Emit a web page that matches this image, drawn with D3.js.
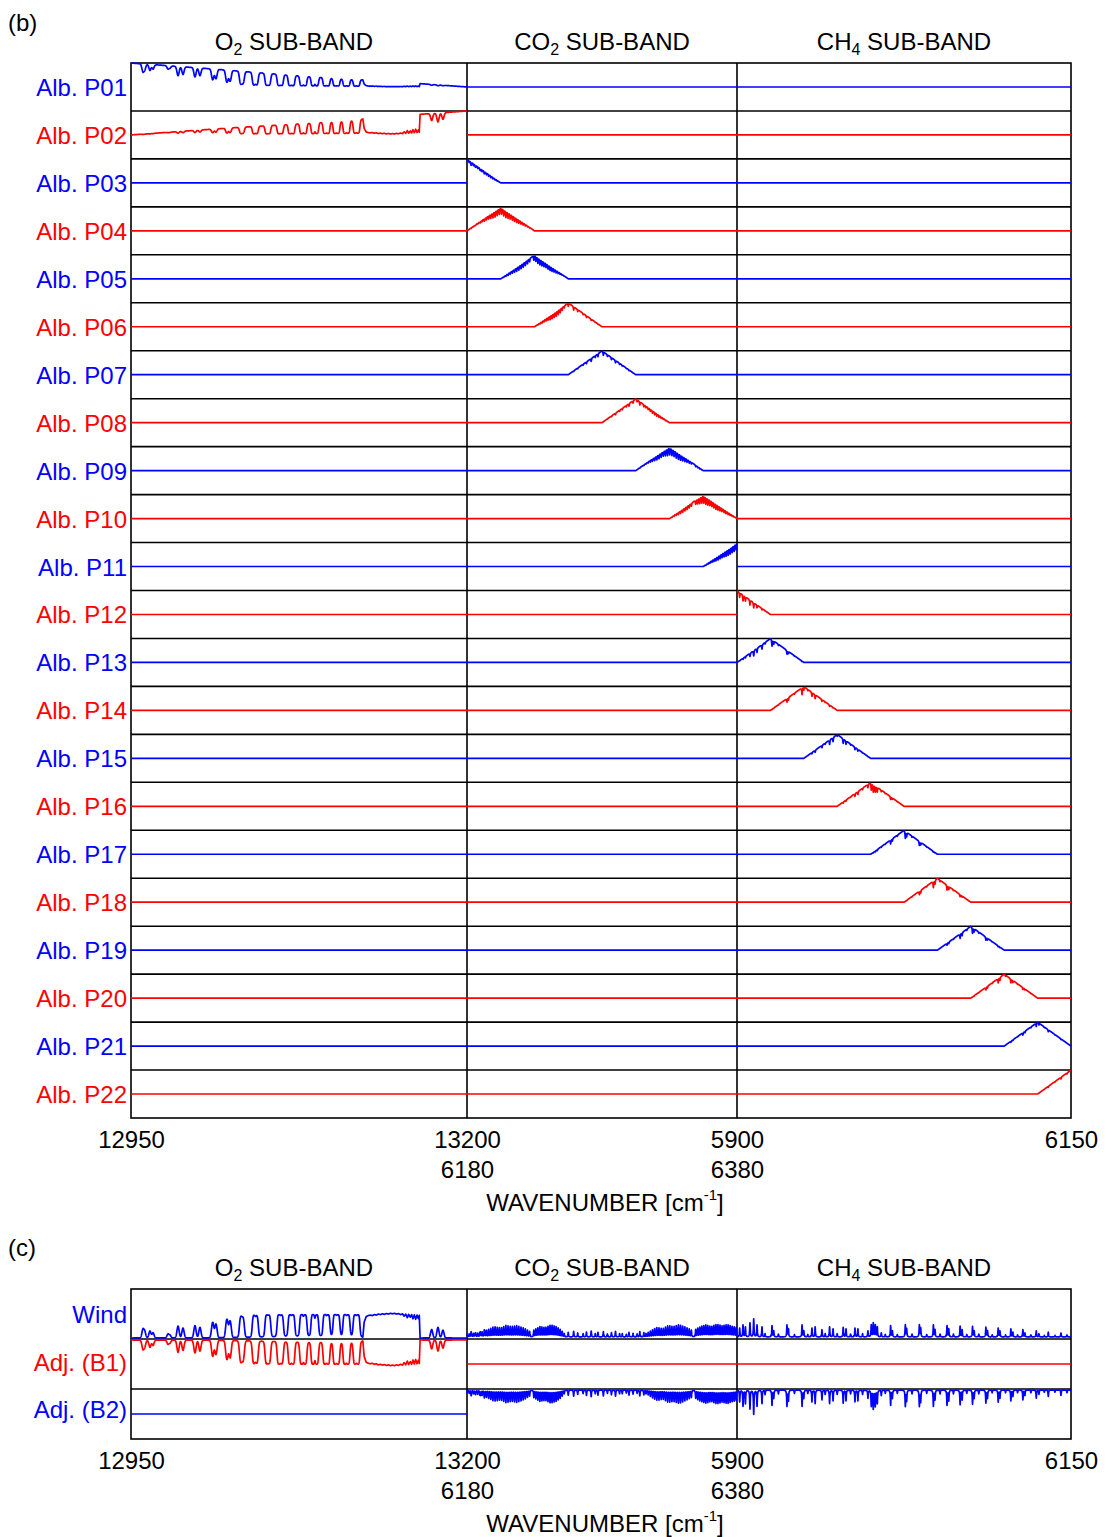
<!DOCTYPE html>
<html><head><meta charset="utf-8">
<script src="https://cdn.jsdelivr.net/npm/d3@7"></script>
<style>
body{margin:0;background:#fff}
svg{display:block}
text{font-family:"Liberation Sans",Arial,Helvetica,sans-serif}
</style>
</head><body>
<svg id="chart" width="1111" height="1537"></svg>
<script>
// ---------------- DATA ----------------
const bandNames = [["O","2"," SUB-BAND"],["CO","2"," SUB-BAND"],["CH","4"," SUB-BAND"]];
const bandRanges = [[12950,13200],[6180,6380],[5900,6150]];
const tickRow1 = [[12950,13200],[],[5900,6150]];
const tickRow2 = [[],[6180,6380],[]];
const xTitle = ["WAVENUMBER [cm","-1","]"];

const albLabels = ["Alb. P01","Alb. P02","Alb. P03","Alb. P04","Alb. P05","Alb. P06","Alb. P07","Alb. P08","Alb. P09","Alb. P10","Alb. P11",
  "Alb. P12","Alb. P13","Alb. P14","Alb. P15","Alb. P16","Alb. P17","Alb. P18","Alb. P19","Alb. P20","Alb. P21","Alb. P22"];
// albedo node of each row: band index and wavenumber
const albBand = [0,0,1,1,1,1,1,1,1,1,1,2,2,2,2,2,2,2,2,2,2,2];
const albNode = [12950,13200,6180,6205,6230,6255,6280,6305,6330,6355,6380,
  5900,5925,5950,5975,6000,6025,6050,6075,6100,6125,6150];

// O2 A-band lines: [wavenumber, line optical depth]
const o2Lines = [
  [12958.9,0.45],[12960.2,0.3],[12964.1,0.35],[12966.4,0.25],[12977.5,0.18],[12979.0,0.12],
  [12985.0,0.7],[12988.7,0.55],[12997.6,0.75],[13001.3,0.6],[13010.8,1.1],[13013.2,0.9],
  [13021.4,1.6],[13023.7,1.3],[13031.8,2.4],[13033.3,1.9],[13041.5,3.5],[13043.5,3.0],
  [13051.0,4.0],[13052.7,3.5],[13060.1,5.0],[13062.1,4.0],[13068.3,5.0],[13070.5,5.0],
  [13077.0,6.0],[13079.5,5.0],[13085.4,6.0],[13088.2,5.0],[13094.3,6.0],[13096.6,5.0],
  [13101.8,6.0],[13104.0,5.0],[13109.2,6.0],[13111.5,5.0],[13116.7,5.0],[13118.9,5.0],
  [13173.7,0.45],[13178.4,0.6],[13182.1,0.4]
];
// O2 band-head (saturated) region: [wavenumber, absorption]
const o2Head = [
  [13122.5,0],[13123.5,0.6],[13125,0.82],[13126.5,0.86],[13128,0.88],[13129.5,0.86],[13131,0.9],
  [13132.5,0.88],[13134,0.92],[13135.5,0.9],[13137,0.93],[13138.5,0.91],[13140,0.94],[13141.5,0.92],
  [13143,0.95],[13144.5,0.93],[13146,0.95],[13147.5,0.92],[13149,0.94],[13150.5,0.9],[13152,0.93],
  [13153.2,0.84],[13154.4,0.92],[13155.6,0.78],[13156.6,0.91],[13157.8,0.8],[13158.8,0.9],
  [13159.8,0.74],[13160.8,0.89],[13161.8,0.72],[13162.8,0.88],[13163.8,0.75],[13164.5,0.87],[13165.1,0]
];
// CO2 branches: [first line, last line, line spacing]
const co2Branches = [[6226.4,6180.0,1.6],[6229.5,6252.0,1.5],[6346.2,6313.0,1.6],[6349.4,6380.0,1.5]];
// CO2 branch envelope: [wavenumber, line absorption]
const co2Envelope = [
  [6180,0.08],[6190,0.12],[6196,0.22],[6200,0.3],[6205,0.26],[6209,0.34],[6213,0.3],[6217,0.33],
  [6222,0.26],[6226.5,0.16],[6229.5,0.2],[6234,0.3],[6238,0.27],[6242,0.35],[6246,0.3],[6249,0.22],[6252,0.1],
  [6313,0.1],[6317,0.2],[6321,0.28],[6325,0.24],[6329,0.33],[6333,0.3],[6337,0.36],[6341,0.3],[6346.3,0.2],
  [6349.3,0.22],[6353,0.3],[6357,0.35],[6361,0.3],[6365,0.37],[6369,0.32],[6373,0.36],[6377,0.3],[6380,0.28]
];
// weak lines in CO2 window: [wavenumber, absorption]
const co2Weak = [
  [6183,0.1],[6186,0.08],[6190,0.12],[6193,0.09],[6255,0.14],[6259,0.17],[6262,0.12],[6266,0.1],
  [6268.5,0.15],[6272,0.18],[6275,0.1],[6277,0.14],[6281,0.16],[6284,0.09],[6287,0.13],[6290,0.17],
  [6293,0.1],[6295,0.1],[6298,0.08],[6300,0.14],[6303,0.11],[6306,0.09],[6308,0.16],[6311,0.13]
];
// CH4 sub-band lines: [wavenumber, absorption]
const ch4Lines = [
  [5902.0,0.22],[5904.5,0.3],[5906.3,0.25],[5909.7,0.35],[5912.5,0.45],[5915.0,0.3],[5918.7,0.25],
  [5921,0.08],[5926.2,0.28],[5927.5,0.15],[5931,0.07],[5937.4,0.3],[5938.5,0.2],[5943,0.06],
  [5948.7,0.3],[5950,0.15],[5953,0.06],[5956.1,0.22],[5958.5,0.25],[5963.6,0.18],[5966,0.08],
  [5969.3,0.25],[5971.9,0.2],[5975,0.08],[5979.5,0.24],[5981.6,0.2],[5985,0.07],[5988.3,0.22],
  [5990.5,0.2],[5994,0.08],[5998,0.15],[6000.5,0.3],[6002,0.35],[6003.5,0.3],[6005,0.25],
  [6008,0.1],[6011,0.06],[6015,0.28],[6016.3,0.15],[6020,0.06],[6026,0.3],[6027,0.2],[6031,0.07],
  [6036.5,0.3],[6037.5,0.22],[6042,0.06],[6047,0.3],[6048.2,0.18],[6052,0.07],[6057.2,0.28],
  [6058.5,0.2],[6062,0.07],[6067,0.27],[6068.5,0.18],[6072,0.06],[6076.3,0.26],[6077.5,0.15],
  [6081,0.07],[6086.3,0.24],[6087.5,0.15],[6091,0.05],[6095.5,0.22],[6096.8,0.15],[6101,0.05],
  [6105,0.2],[6106.5,0.12],[6110,0.05],[6114,0.18],[6115.5,0.1],[6120,0.05],[6124,0.15],
  [6126,0.08],[6130,0.04],[6133,0.12],[6138,0.04],[6142.5,0.1],[6147,0.05]
];
// panel (c) rows
const cLabels = ["Wind","Adj. (B1)","Adj. (B2)"];
// sign of each panel-(c) row per band (0 = identically zero)
const cWeights = [[1,1,1],[-1,0,0],[0,-1,-1]];

// ---------------- LAYOUT ----------------
const BLUE="#0000ff", RED="#ff0000";
const edges=[131,467,737,1071];
const bTop=63, bBot=1118, nB=22, rowH=(bBot-bTop)/nB;
const cTop=1289, cBot=1439, cRowH=50;
const LW=1.7;
const svg=d3.select("#chart");
const xS = bandRanges.map((r,i)=>d3.scaleLinear().domain(r).range([edges[i],edges[i+1]]));

// ---------------- MODEL ----------------
const lor=(d,g)=>1/(1+(d/g)*(d/g));
const gau=(d,s)=>Math.exp(-d*d/(2*s*s));
function interp(knots,nu){
  if(nu<knots[0][0]||nu>knots[knots.length-1][0])return 0;
  const i=d3.bisector(k=>k[0]).right(knots,nu);
  if(i<=0)return knots[0][1];
  if(i>=knots.length)return knots[knots.length-1][1];
  const a=knots[i-1],b=knots[i];
  return a[1]+(b[1]-a[1])*(nu-a[0])/(b[0]-a[0]);
}
const co2Lines=[];
co2Branches.forEach(([a,b,s])=>{
  const n=Math.round(Math.abs(b-a)/s);
  for(let j=0;j<=n;j++){const nu=a+(b>a?1:-1)*j*s;co2Lines.push([nu,interp(co2Envelope,nu)]);}
});
co2Weak.forEach(l=>co2Lines.push(l));

function absO2(nu){
  let tau=0;
  for(const [c,s] of o2Lines){const d=nu-c;if(d>-25&&d<25)tau+=s*(0.82*gau(d,0.75)+0.18*lor(d,0.6));}
  const al=0.9*(1-Math.exp(-tau));
  const ap=interp(o2Head,nu);
  return Math.min(0.95,1-(1-al)*(1-ap));
}
function absList(lines,g){
  return nu=>{
    let tau=0;
    for(const [c,a] of lines){const d=nu-c;if(d>-15&&d<15)tau+=-Math.log(1-a)*lor(d,g);}
    return 1-Math.exp(-tau);
  };
}
const absFn=[absO2,absList(co2Lines,0.22),absList(ch4Lines,0.22)];
const grids=bandRanges.map(r=>{const g=d3.range(r[0],r[1],0.1);g.push(r[1]);return g;});
const absorb=grids.map((g,b)=>g.map(nu=>absFn[b](nu)));

function hat(row,nu){
  const b=albBand[row], c=albNode[row];
  const nodes=albNode.filter((v,i)=>albBand[i]===b);
  const k=nodes.indexOf(c), prev=nodes[k-1], next=nodes[k+1];
  if(nu<=c){ if(prev===undefined)return 1; return Math.max(0,(nu-prev)/(c-prev)); }
  if(next===undefined)return 1; return Math.max(0,(next-nu)/(next-c));
}

// ---------------- FRAMES ----------------
function frame(top,bot,nRows,rh){
  const g=svg.append("g").attr("stroke","#000").attr("stroke-width",1.6).attr("fill","none");
  g.append("rect").attr("x",edges[0]).attr("y",top).attr("width",edges[3]-edges[0]).attr("height",bot-top);
  for(let i=1;i<nRows;i++)g.append("line").attr("x1",edges[0]).attr("x2",edges[3]).attr("y1",top+i*rh).attr("y2",top+i*rh);
  [edges[1],edges[2]].forEach(x=>g.append("line").attr("x1",x).attr("x2",x).attr("y1",top).attr("y2",bot));
}
frame(bTop,bBot,nB,rowH);
frame(cTop,cBot,3,cRowH);

function bandTitles(yBase){
  const cx=[294,602,904];
  bandNames.forEach((t,i)=>{
    const tx=svg.append("text").attr("x",cx[i]).attr("y",yBase).attr("text-anchor","middle").attr("font-size",24).attr("fill","#000");
    tx.append("tspan").text(t[0]);
    tx.append("tspan").attr("font-size",16).attr("dy",5).text(t[1]);
    tx.append("tspan").attr("dy",-5).text(t[2]);
  });
}
function axes(yFrame){
  [tickRow1,tickRow2].forEach((rowTicks,ri)=>{
    rowTicks.forEach((tv,b)=>{
      if(!tv.length)return;
      const g=svg.append("g").attr("transform",`translate(0,${yFrame})`)
        .call(d3.axisBottom(xS[b]).tickValues(tv).tickSize(0).tickPadding(ri===0?13:43).tickFormat(d3.format("d")));
      g.select(".domain").remove();
      g.selectAll("text").attr("font-size",24).attr("font-family","Liberation Sans,Arial,sans-serif").attr("fill","#000");
    });
  });
  const t=svg.append("text").attr("x",605).attr("y",yFrame+93).attr("text-anchor","middle").attr("font-size",24).attr("fill","#000");
  t.append("tspan").text(xTitle[0]);
  t.append("tspan").attr("font-size",15).attr("dy",-11).text(xTitle[1]);
  t.append("tspan").attr("dy",11).text(xTitle[2]);
}

// ---------------- PANEL (b) ----------------
svg.append("text").attr("x",8).attr("y",31).attr("font-size",24).text("(b)");
bandTitles(50);
const lineGen=d3.line().x(d=>d[0]).y(d=>d[1]);
albLabels.forEach((lab,r)=>{
  const color=r%2===0?BLUE:RED;
  const top=bTop+r*rowH, center=top+rowH/2;
  const y=d3.scaleLinear().domain([0,1]).range([center,top]);
  svg.append("text").attr("x",127).attr("y",center+9).attr("text-anchor","end").attr("font-size",24).attr("fill",color).text(lab);
  bandRanges.forEach((rng,b)=>{
    let pts;
    if(b!==albBand[r]) pts=[[xS[b](rng[0]),y(0)],[xS[b](rng[1]),y(0)]];
    else pts=grids[b].map((nu,i)=>[xS[b](nu),y(hat(r,nu)*(1-absorb[b][i]))]);
    svg.append("path").attr("d",lineGen(pts)).attr("fill","none").attr("stroke",color).attr("stroke-width",LW).attr("stroke-linejoin","round");
  });
});
axes(bBot);

// ---------------- PANEL (c) ----------------
svg.append("text").attr("x",8).attr("y",1256).attr("font-size",24).text("(c)");
bandTitles(1276);
// baseline and pixel gain of each panel-(c) row per band
const cBase=[[1338,1337,1337],[1340,1364,1364],[1414,1390,1390]];
const cGain=[[26,33,40],[27,0,0],[0,36,54]];
const cLabelY=[1323,1371,1418];
cLabels.forEach((lab,r)=>{
  const color=r===1?RED:BLUE;
  svg.append("text").attr("x",127).attr("y",cLabelY[r]).attr("text-anchor","end").attr("font-size",24).attr("fill",color).text(lab);
  bandRanges.forEach((rng,b)=>{
    const w=cWeights[r][b];
    const y=d3.scaleLinear().domain([0,1]).range([cBase[r][b],cBase[r][b]-cGain[r][b]*Math.sign(w||1)]);
    let pts;
    if(w===0) pts=[[xS[b](rng[0]),y(0)],[xS[b](rng[1]),y(0)]];
    else pts=grids[b].map((nu,i)=>[xS[b](nu),y(absorb[b][i])]);
    svg.append("path").attr("d",lineGen(pts)).attr("fill","none").attr("stroke",color).attr("stroke-width",LW).attr("stroke-linejoin","round");
  });
});
axes(cBot);
</script>
</body></html>
